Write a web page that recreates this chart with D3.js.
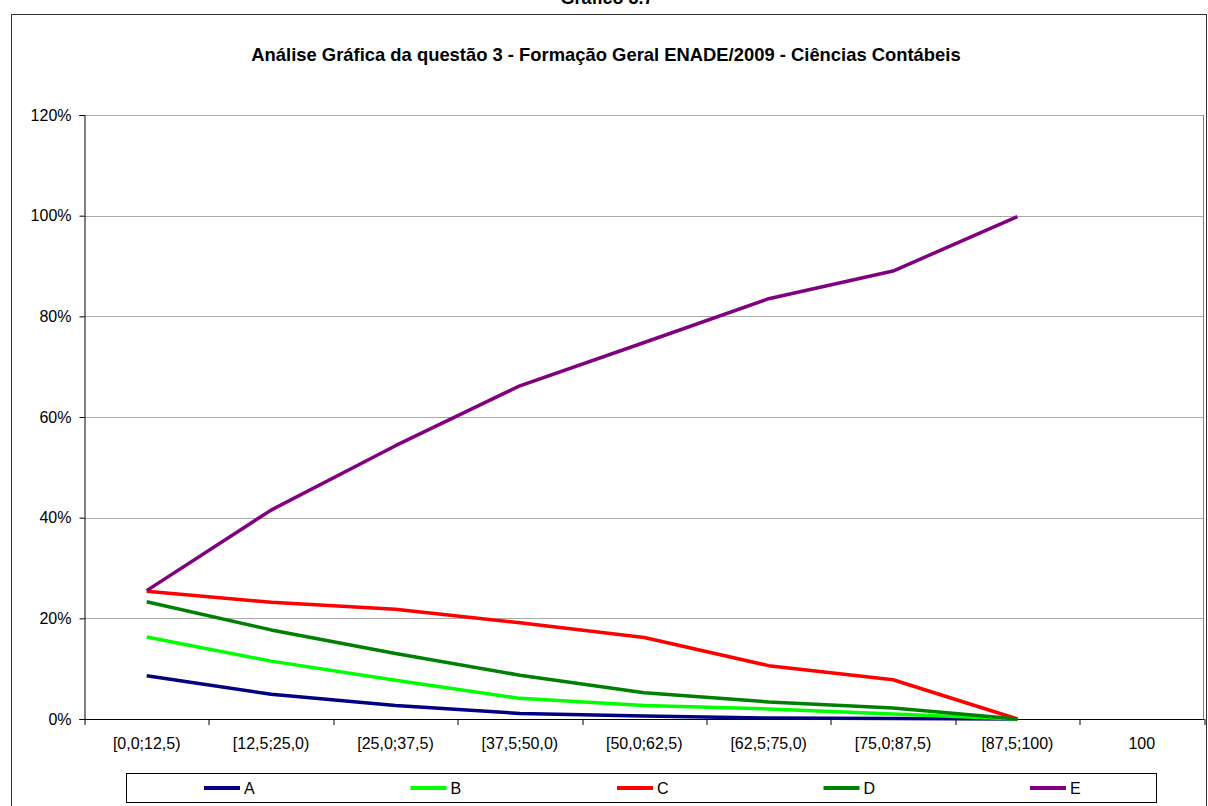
<!DOCTYPE html>
<html>
<head>
<meta charset="utf-8">
<script src="https://cdn.jsdelivr.net/npm/d3@7/dist/d3.min.js"></script>
<style>
  body { margin: 0; background: #fff; }
  svg { display: block; font-family: "Liberation Sans", Arial, sans-serif; }
</style>
</head>
<body>
<div id="chart"></div>
<script>
// categories (faixas de nota) and share of each answer
var categories = ["[0,0;12,5)", "[12,5;25,0)", "[25,0;37,5)", "[37,5;50,0)", "[50,0;62,5)",
                  "[62,5;75,0)", "[75,0;87,5)", "[87,5;100)", "100"];
var seriesNames = ["A", "B", "C", "D", "E"];
var valuesA = [0.086, 0.049, 0.027, 0.011, 0.006, 0.002, 0.001, 0.000];
var valuesB = [0.163, 0.115, 0.077, 0.041, 0.027, 0.020, 0.010, 0.000];
var valuesC = [0.254, 0.232, 0.218, 0.191, 0.162, 0.106, 0.078, 0.000];
var valuesD = [0.233, 0.177, 0.130, 0.087, 0.052, 0.034, 0.022, 0.000];
var valuesE = [0.255, 0.415, 0.543, 0.662, 0.748, 0.835, 0.890, 0.998];
var yTicks = [0, 0.2, 0.4, 0.6, 0.8, 1.0, 1.2];
var colors = ["#000080", "#00ff00", "#ff0000", "#008000", "#800080"];

var series = [valuesA, valuesB, valuesC, valuesD, valuesE];

var W = 1208, H = 806;
var margin = { top: 115, left: 84.5, right: 4, bottom: 87 };
var width = W - margin.left - margin.right,
    height = H - margin.top - margin.bottom;

var svg = d3.select("#chart").append("svg")
    .attr("width", W)
    .attr("height", H);

// page title, cut off at the top like in the scan
svg.append("text")
    .attr("x", 607).attr("y", 4)
    .attr("text-anchor", "middle")
    .attr("font-size", "18px")
    .attr("font-weight", "bold")
    .text("Gráfico 3.7");

// chart area border
svg.append("rect")
    .attr("x", 11.5).attr("y", 14.5)
    .attr("width", 1195).attr("height", 820)
    .attr("fill", "none")
    .attr("stroke", "#333")
    .attr("stroke-width", 1);

svg.append("text")
    .attr("x", 606).attr("y", 61)
    .attr("text-anchor", "middle")
    .attr("font-size", "18.4px")
    .attr("font-weight", "bold")
    .text("Análise Gráfica da questão 3 - Formação Geral ENADE/2009 - Ciências Contábeis");

var g = svg.append("g")
    .attr("transform", "translate(" + margin.left + "," + margin.top + ")");

var x = d3.scaleBand()
    .domain(categories)
    .range([0, width]);

var y = d3.scaleLinear()
    .domain([0, 1.2])
    .range([height, 0]);

// gridlines
g.selectAll(".grid")
    .data(yTicks.slice(1))
    .enter()
    .append("line")
    .attr("class", "grid")
    .attr("x1", 0).attr("x2", width)
    .attr("y1", function (d) { return Math.round(y(d)) + 0.5; })
    .attr("y2", function (d) { return Math.round(y(d)) + 0.5; })
    .attr("stroke", "#555")
    .attr("stroke-width", 1)
    .attr("stroke-dasharray", "1,1");

// right edge of plot area
g.append("line")
    .attr("x1", width - 0.5).attr("x2", width - 0.5)
    .attr("y1", 0).attr("y2", height)
    .attr("stroke", "#808080");

var gy = g.append("g")
    .call(d3.axisLeft(y).tickValues(yTicks).tickSize(5).tickPadding(8)
        .tickFormat(d3.format(".0%")));
gy.selectAll("text").attr("font-size", "16px").attr("fill", "#000")
    .style("font-family", "Liberation Sans, Arial, sans-serif");
gy.select(".domain").attr("stroke", "#000");

var gx = g.append("g")
    .attr("transform", "translate(0," + height + ")")
    .call(d3.axisBottom(x).tickSize(0).tickPadding(19));
gx.selectAll("text").attr("font-size", "16px").attr("fill", "#000")
    .style("font-family", "Liberation Sans, Arial, sans-serif");
gx.select(".domain").attr("stroke", "#000");

// tick marks between categories
var bounds = d3.range(categories.length + 1).map(function (i) { return i * x.step(); });
gx.selectAll(".sep")
    .data(bounds)
    .enter()
    .append("line")
    .attr("class", "sep")
    .attr("x1", function (d) { return Math.round(d) + 0.5; })
    .attr("x2", function (d) { return Math.round(d) + 0.5; })
    .attr("y1", 0).attr("y2", 6)
    .attr("stroke", "#000");

var line = d3.line()
    .x(function (d, i) { return x(categories[i]) + x.bandwidth() / 2; })
    .y(function (d) { return y(d); });

g.selectAll(".series")
    .data(series)
    .enter()
    .append("path")
    .attr("class", "series")
    .attr("d", line)
    .attr("fill", "none")
    .attr("stroke", function (d, i) { return colors[i]; })
    .attr("stroke-width", 3.5)
    .attr("stroke-linejoin", "round");

// legend
var legend = svg.append("g");
legend.append("rect")
    .attr("x", 126.5).attr("y", 773.5)
    .attr("width", 1030).attr("height", 29)
    .attr("fill", "#fff")
    .attr("stroke", "#000");

var item = legend.selectAll(".item")
    .data(seriesNames)
    .enter()
    .append("g")
    .attr("class", "item")
    .attr("transform", function (d, i) { return "translate(" + (204 + i * 206.5) + ",788)"; });
item.append("line")
    .attr("x1", 0).attr("x2", 36)
    .attr("stroke", function (d, i) { return colors[i]; })
    .attr("stroke-width", 4);
item.append("text")
    .attr("x", 40).attr("y", 6)
    .attr("font-size", "16px")
    .text(function (d) { return d; });
</script>
</body>
</html>
